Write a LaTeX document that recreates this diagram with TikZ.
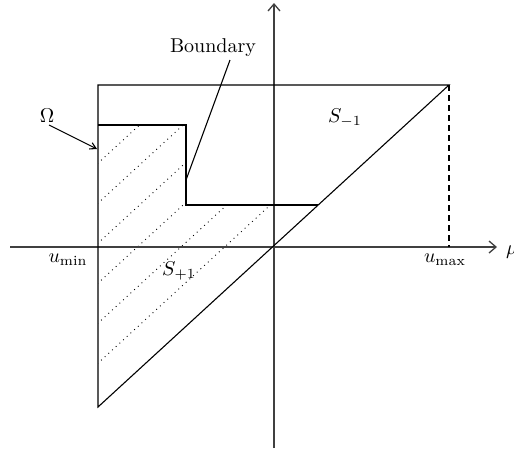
\documentclass[tikz,border=0pt]{standalone}
\usepackage{fontspec}
\usetikzlibrary{arrows.meta}
\newcommand{\lbltext}[1]{\scalebox{2.0}{#1}}
\begin{document}
\begin{tikzpicture}[x=1pt,y=-1pt,
  axis/.style={draw=black!75, line width=1.3pt, -{Straight Barb[length=7pt,width=12pt]}},
  edge/.style={draw=black, line width=1.1pt},
  pointer/.style={draw=black, line width=1.1pt, -{Straight Barb[length=6pt,width=7pt]}},
  hatch/.style={draw=black, line width=0.9pt, dash pattern=on 0.9pt off 4.1pt},
  dashline/.style={draw=black, line width=1.1pt, dash pattern=on 6pt off 4pt},
  lbl/.style={inner sep=0pt, anchor=base}]
\useasboundingbox (0,0) rectangle (514,451);
% key points
\coordinate (xl) at (10,247);
\coordinate (xr) at (497,247);
\coordinate (yb) at (274,448);
\coordinate (yt) at (274,3);
\coordinate (TL) at (98,85);
\coordinate (TR) at (449,85);
\coordinate (BL) at (98,407);
\coordinate (A) at (98,125);
\coordinate (B) at (186,125);
\coordinate (C) at (186,205);
\coordinate (D) at (318.2,205);
\coordinate (M) at (449,247);
\coordinate (bt) at (230,60);
\coordinate (bp) at (186,180);
\coordinate (ot) at (49,125);
\coordinate (op) at (97,149);
% hatching
\begin{scope}
  \clip (A) -- (B) -- (C) -- (D) -- (BL) -- cycle;
  \foreach \c in {253,293,333,373,413,453}
    \draw[hatch] (90,{\c-0.9174*90}) -- (330,{\c-0.9174*330});
\end{scope}
% axes
\draw[axis] (xl) -- (xr);
\draw[axis] (yb) -- (yt);
% outline
\draw[edge] (TR) -- (TL) -- (BL) -- cycle;
\draw[edge] (A) -- (B) -- (C) -- (D);
\draw[dashline] (TR) -- (M);
% labels
\node[lbl] (bnd) at (213,52) {\lbltext{Boundary}};
\draw[edge] (bt) -- (bp);
\node[lbl] (om) at (47,122) {\lbltext{$\Omega$}};
\draw[pointer] (ot) -- (op);
\node[lbl] (sm) at (345,122) {\lbltext{$S_{-1}$}};
\node[lbl] (sp) at (179,275) {\lbltext{$S_{+1}$}};
\node[lbl] (umin) at (68,262) {\lbltext{$u_{\min}$}};
\node[lbl] (umax) at (445,262) {\lbltext{$u_{\max}$}};
\node[lbl, anchor=base west] (mu) at (506,254) {\lbltext{$\mu$}};
\end{tikzpicture}
\end{document}
